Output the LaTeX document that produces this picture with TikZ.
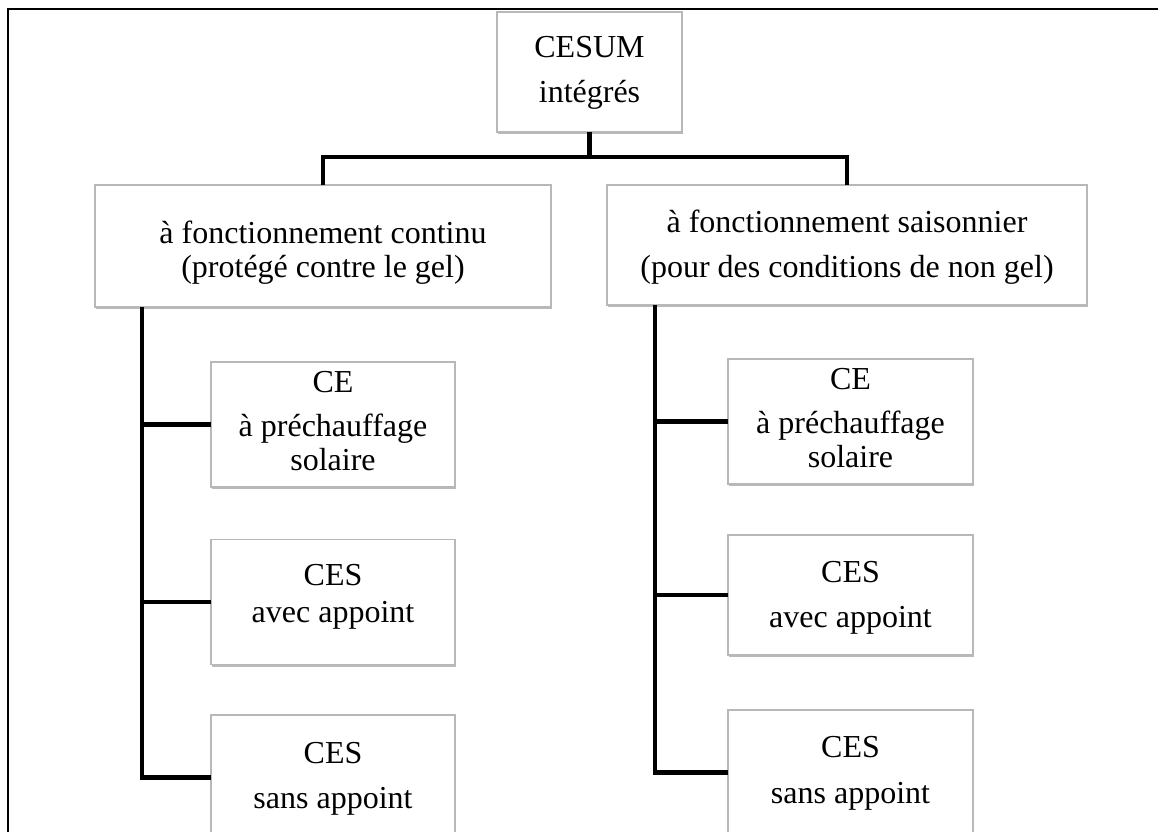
\documentclass[tikz,border=0pt]{standalone}
\usepackage{fontspec}
\setmainfont{Liberation Serif}
\usetikzlibrary{shadows}
\begin{document}
\begin{tikzpicture}[x=0.75pt,y=-0.75pt,
  box/.style={draw=black!28, line width=0.8pt, fill=white, rectangle, inner sep=0pt, outer sep=0pt,
    drop shadow={shadow xshift=0.6pt, shadow yshift=-1.6pt, fill=black!45, opacity=0.6}},
  txt/.style={anchor=base, inner sep=0pt, font=\fontsize{24}{30}\selectfont},
  conn/.style={line width=3.3pt, black},
  frame/.style={line width=2.2pt, black}]
\useasboundingbox (0,0) rectangle (1158,832);
\clip (0,0) rectangle (1158,832);
% frame
\draw[frame] (8,840) -- (8,9) -- (1165,9);
% boxes
\node[box, minimum width=138.75pt, minimum height=90pt] (top) at (589.5,72) {};
\node[box, minimum width=342pt, minimum height=91.5pt] (lmid) at (323,246) {};
\node[box, minimum width=360pt, minimum height=90pt] (rmid) at (847,245) {};
\node[box, minimum width=183pt, minimum height=93.75pt] (lc1) at (333,424.5) {};
\node[box, minimum width=183pt, minimum height=93.75pt] (lc2) at (333,602) {};
\node[box, minimum width=183pt, minimum height=93.75pt] (lc3) at (333,777.5) {};
\node[box, minimum width=183.75pt, minimum height=93.75pt] (rc1) at (850.5,421.5) {};
\node[box, minimum width=183.75pt, minimum height=90pt] (rc2) at (850.5,595) {};
\node[box, minimum width=183.75pt, minimum height=93.75pt] (rc3) at (850.5,772.5) {};
% texts
\node[txt] (topa) at (589.5,57) {CESUM};
\node[txt] (topb) at (589.5,102) {intégrés};
\node[txt] (lmida) at (323,243) {à fonctionnement continu};
\node[txt] (lmidb) at (323,277) {(protégé contre le gel)};
\node[txt] (rmida) at (847,232) {à fonctionnement saisonnier};
\node[txt] (rmidb) at (847,277) {(pour des conditions de non gel)};
\node[txt] (lc1a) at (333,392) {CE};
\node[txt] (lc1b) at (333,436) {à préchauffage};
\node[txt] (lc1c) at (333,470) {solaire};
\node[txt] (rc1a) at (850.5,389) {CE};
\node[txt] (rc1b) at (850.5,433) {à préchauffage};
\node[txt] (rc1c) at (850.5,467) {solaire};
\node[txt] (lc2a) at (333,585) {CES};
\node[txt] (lc2b) at (333,622) {avec appoint};
\node[txt] (rc2a) at (850.5,582) {CES};
\node[txt] (rc2b) at (850.5,627) {avec appoint};
\node[txt] (lc3a) at (333,763) {CES};
\node[txt] (lc3b) at (333,808) {sans appoint};
\node[txt] (rc3a) at (850.5,757) {CES};
\node[txt] (rc3b) at (850.5,803) {sans appoint};
% connectors
\coordinate (j) at (589.5,157);
\coordinate (lj) at (323,157);
\coordinate (rj) at (847,157);
\coordinate (lx) at (142,0);
\coordinate (rx) at (655,0);
\draw[conn] (top.south) -- (j);
\draw[conn] (lmid.north) -- (lj) -- (rj) -- (rmid.north);
\draw[conn] (lx |- lmid.south) |- (lc3.west);
\draw[conn] (lx |- lc1.west) -- (lc1.west);
\draw[conn] (lx |- lc2.west) -- (lc2.west);
\draw[conn] (rx |- rmid.south) |- (rc3.west);
\draw[conn] (rx |- rc1.west) -- (rc1.west);
\draw[conn] (rx |- rc2.west) -- (rc2.west);
\end{tikzpicture}
\end{document}
